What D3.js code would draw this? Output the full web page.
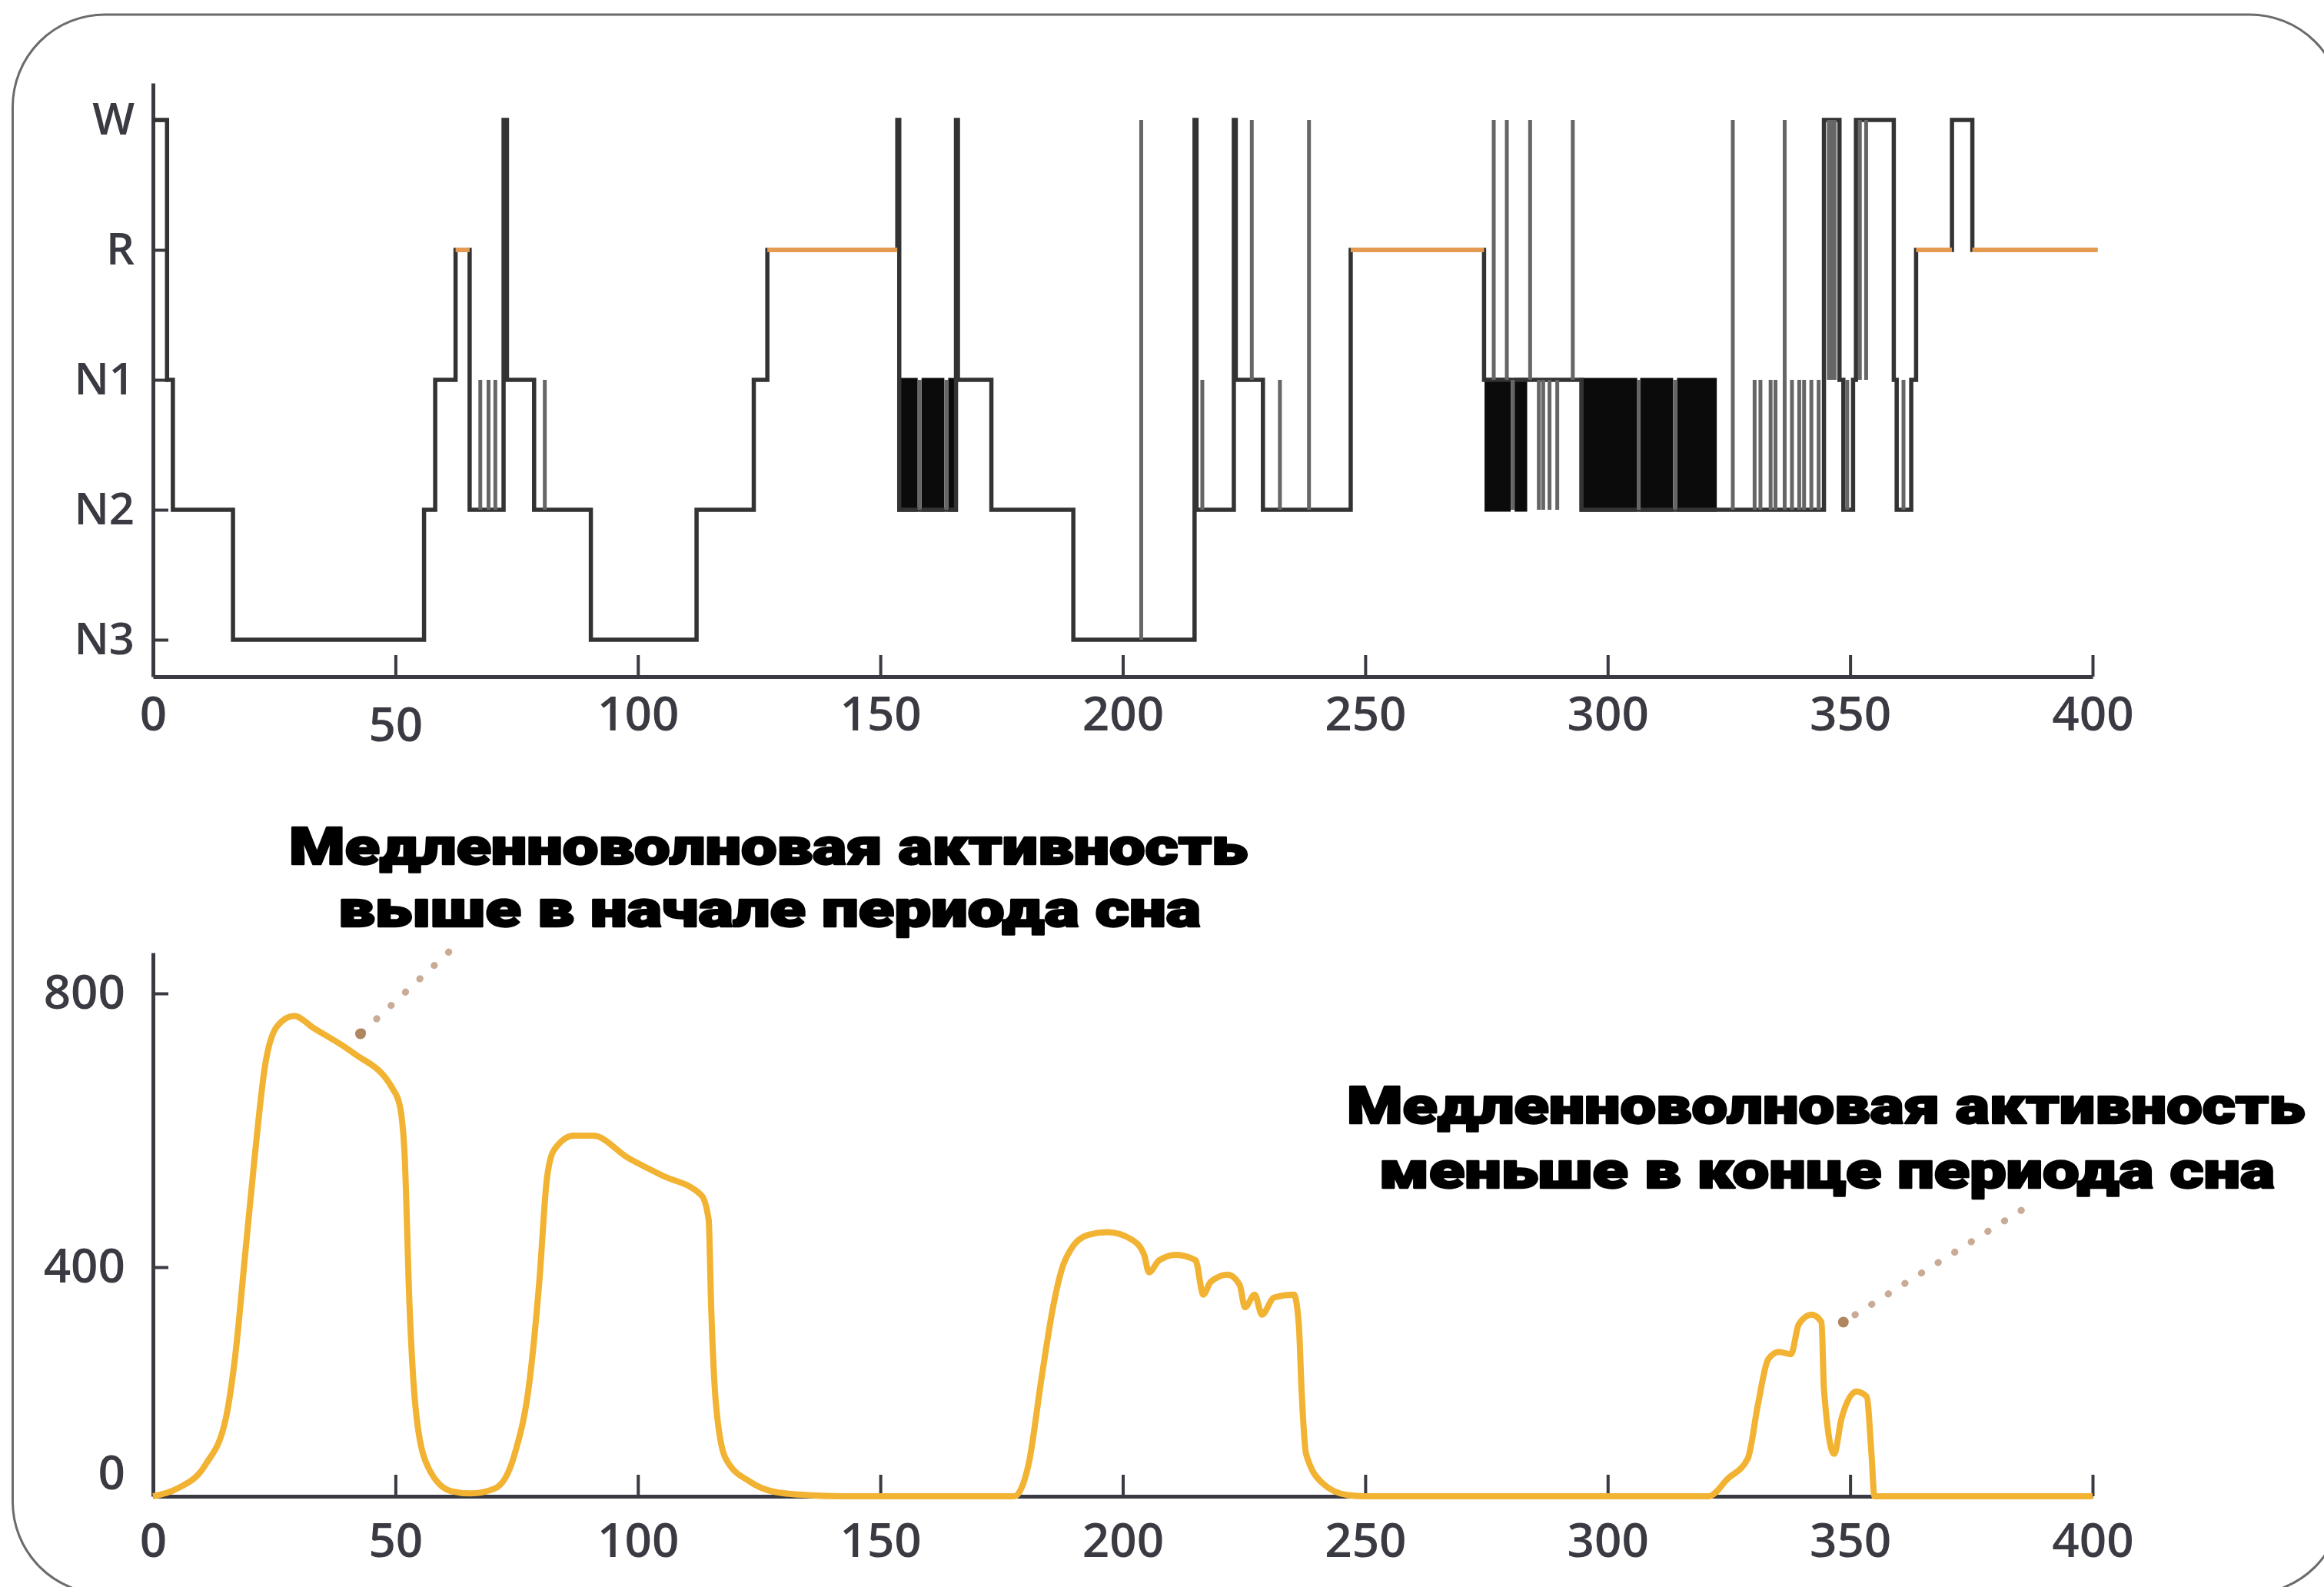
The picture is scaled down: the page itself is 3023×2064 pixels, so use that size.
<!DOCTYPE html>
<html>
<head>
<meta charset="utf-8">
<script src="https://cdn.jsdelivr.net/npm/d3@7"></script>
<style>
html, body { margin: 0; padding: 0; background: #fff; }
svg { display: block; }
</style>
</head>
<body>
<div id="chart"></div>
<script>
// hypnogram stages, bottom to top
var stages = ["N3", "N2", "N1", "R", "W"]

// hypnogram: time of each stage change and the stage entered
var hypTime = [0, 2.9, 4.1, 16.5, 55.9, 58.2, 62.4, 65.3, 72.3, 73.0, 78.6, 90.3, 112.1, 123.9, 126.7,
               153.5, 153.9, 165.6, 166.0, 172.9, 189.8, 214.8, 215.2, 222.9, 223.3, 228.9, 247.0,
               274.5, 294.6, 344.6, 347.8, 348.6, 350.6, 351.2, 359.0, 359.6, 362.6, 363.6, 371.0, 375.2, 401]
var hypStage = ["W", "N1", "N2", "N3", "N2", "N1", "R", "N2", "W", "N1", "N2", "N3", "N2", "N1", "R",
                "W", "N2", "W", "N1", "N2", "N3", "W", "N2", "W", "N1", "N2", "R",
                "N1", "N2", "W", "N1", "N2", "N1", "W", "N1", "N2", "N1", "R", "W", "R", "R"]

// brief excursions away from the current stage
var spikeTime = [67.5, 69.2, 70.6, 80.8, 158.1, 163.6, 203.8, 216.4, 226.6, 232.4, 238.4,
                 276.5, 279.2, 280.4, 284.0, 285.8, 286.7, 288.0, 289.6, 292.8, 306.4, 313.9,
                 325.8, 330.3, 331.5, 333.6, 334.6, 336.5, 338.0, 339.5, 340.5, 342.0, 343.5,
                 345.6, 346.2, 346.8, 349.4, 352.0, 353.3, 361.0]
var spikeFrom = ["N2", "N2", "N2", "N2", "N2", "N2", "N3", "N2", "N1", "N2", "N2",
                 "N1", "N1", "N1", "N1", "N1", "N1", "N1", "N1", "N1", "N2", "N2",
                 "N2", "N2", "N2", "N2", "N2", "N2", "N2", "N2", "N2", "N2", "N2",
                 "W", "W", "W", "N2", "W", "W", "N2"]
var spikeTo = ["N1", "N1", "N1", "N1", "N1", "N1", "W", "N1", "W", "N1", "W",
               "W", "W", "N2", "W", "N2", "N2", "N2", "N2", "W", "N1", "N1",
               "W", "N1", "N1", "N1", "N1", "W", "N1", "N1", "N1", "N1", "N1",
               "N1", "N1", "N1", "N1", "N1", "N1", "N1"]

// periods of rapid N1 / N2 switching
var denseStart = [153.9, 158.9, 164.4, 275.0, 281.2, 294.6, 307.1, 314.7]
var denseEnd   = [157.3, 162.8, 165.6, 279.6, 283.0, 305.7, 313.1, 322.1]

// slow-wave activity
var swaTime = [0, 4.9, 10.9, 15.0, 17.0, 19.0, 21.0, 23.1, 25.6, 29.1, 33.2, 41.3, 49.4, 50.9, 51.9,
               52.9, 54.4, 56.9, 61.5, 65.5, 70.6, 74.6, 77.7, 79.7, 81.2, 82.7, 86.8, 90.8, 97.9,
               105.0, 113.1, 114.6, 115.1, 116.1, 118.1, 123.2, 128.0, 135.0, 142.2, 177.6, 180.6,
               183.2, 185.7, 187.7, 189.2, 192.8, 196.8, 201.9, 204.4, 205.4, 207.5, 211.0, 215.0,
               216.6, 218.1, 221.6, 224.1, 225.2, 227.2, 228.7, 231.2, 235.3, 236.3, 236.9, 237.8,
               241.3, 246.4, 250.0, 320.8, 324.8, 328.9, 331.0, 333.1, 335.3, 337.8, 339.4, 342.0,
               344.1, 344.6, 346.7, 348.2, 351.3, 353.4, 354.4, 355.0, 400]
var swaValue = [0, 13, 56, 135, 248, 418, 563, 694, 752, 767, 749, 713, 661, 636, 563,
                334, 135, 48, 9, 5, 14, 74, 204, 378, 527, 571, 592, 592, 560,
                534, 505, 469, 334, 161, 66, 25, 8, 2, 0, 0, 57,
                204, 334, 403, 425, 447, 451, 440, 418, 391, 410, 418, 410,
                352, 374, 387, 369, 330, 352, 317, 347, 352, 300, 180, 74,
                22, 2, 0, 0, 31, 66, 161, 239, 252, 248, 300, 317,
                304, 187, 74, 135, 183, 174, 74, 0, 0]

var xTicks = [0, 50, 100, 150, 200, 250, 300, 350, 400]
var swaTicks = [0, 400, 800]

var note1 = ["Медленноволновая активность", "выше в начале периода сна"]
var note2 = ["Медленноволновая активность", "меньше в конце периода сна"]

var width = 3023, height = 2064
var labelFont = "'Open Sans', 'DejaVu Sans', sans-serif"
var noteFont = "Roboto, 'DejaVu Sans', sans-serif"

var svg = d3.select("#chart")
    .append("svg")
    .attr("width", width)
    .attr("height", height)

// rounded frame
svg.append("rect")
    .attr("x", 16.5)
    .attr("y", 19)
    .attr("width", 3030)
    .attr("height", 2054)
    .attr("rx", 120)
    .attr("fill", "#fff")
    .attr("stroke", "#6b6b6b")
    .attr("stroke-width", 3)

// scales
var x = d3.scaleLinear().domain([0, 400]).range([199, 2722])
var yS = d3.scalePoint().domain(stages).range([880, 108]).padding(0.284)
// the picture's value axis is not evenly spaced, so map it piece by piece
var yV = d3.scaleLinear().domain([0, 400, 800, 860]).range([1946, 1648, 1292, 1239])

function styleAxis(g, size) {
    g.attr("font-size", size)
        .attr("font-family", labelFont)
        .attr("font-weight", 600)
        .attr("color", "#3a3a42")
    g.select(".domain").attr("stroke-width", 5)
    g.selectAll(".tick line").attr("stroke-width", 4)
}

// ---------- top: hypnogram ----------
var hypG = svg.append("g")

hypG.append("g")
    .attr("transform", `translate(0,${880})`)
    .call(d3.axisBottom(x).tickValues(xTicks).tickSizeInner(-28).tickSizeOuter(0).tickPadding(26))
    .call(g => styleAxis(g, 62))
    .call(g => g.selectAll(".tick text").filter(d => d === 50).attr("y", 40))

hypG.append("g")
    .attr("transform", `translate(${x(0)},0)`)
    .call(d3.axisLeft(yS).tickSizeInner(-20).tickSizeOuter(0).tickPadding(24))
    .call(g => styleAxis(g, 58))

var hyp = hypTime.map(function(t, i) { return {t: t, s: hypStage[i]} })

var stepLine = d3.line()
    .x(d => x(d.t))
    .y(d => yS(d.s))
    .curve(d3.curveStepAfter)

// rapid switching blocks
hypG.append("g")
    .selectAll("rect")
    .data(denseStart.map((s, i) => ({a: s, b: denseEnd[i]})))
    .enter().append("rect")
        .attr("x", d => x(d.a))
        .attr("y", yS("N1"))
        .attr("width", d => x(d.b) - x(d.a))
        .attr("height", yS("N2") - yS("N1"))
        .attr("fill", "#0b0b0b")
        .attr("stroke", "#0b0b0b")
        .attr("stroke-width", 5)

hypG.append("path")
    .datum(hyp)
    .attr("d", stepLine)
    .attr("fill", "none")
    .attr("stroke", "#333")
    .attr("stroke-width", 5.5)

// brief excursions
hypG.append("g")
    .selectAll("line")
    .data(spikeTime.map((t, i) => ({t: t, a: spikeFrom[i], b: spikeTo[i]})))
    .enter().append("line")
        .attr("x1", d => x(d.t))
        .attr("x2", d => x(d.t))
        .attr("y1", d => yS(d.a))
        .attr("y2", d => yS(d.b))
        .attr("stroke", "#666")
        .attr("stroke-width", 5)

// REM periods in orange
var remRuns = hyp.slice(0, -1)
    .map((d, i) => ({a: d.t, b: hyp[i + 1].t, s: d.s}))
    .filter(d => d.s === "R")

hypG.append("g")
    .selectAll("line")
    .data(remRuns)
    .enter().append("line")
        .attr("x1", d => x(d.a))
        .attr("x2", d => x(d.b))
        .attr("y1", yS("R"))
        .attr("y2", yS("R"))
        .attr("stroke", "#e59a52")
        .attr("stroke-width", 6)

// ---------- bottom: slow-wave activity ----------
var swaG = svg.append("g")

swaG.append("g")
    .attr("transform", `translate(0,${yV(0)})`)
    .call(d3.axisBottom(x).tickValues(xTicks).tickSizeInner(-28).tickSizeOuter(0).tickPadding(35))
    .call(g => styleAxis(g, 62))

swaG.append("g")
    .attr("transform", `translate(${x(0)},0)`)
    .call(d3.axisLeft(yV).tickValues(swaTicks).tickSizeInner(-20).tickSizeOuter(0).tickPadding(36))
    .call(g => styleAxis(g, 62))
    .call(g => g.selectAll(".tick text").filter(d => d === 0).attr("y", -29))

var swa = swaTime.map(function(t, i) { return {t: t, v: swaValue[i]} })

swaG.append("path")
    .datum(swa)
    .attr("d", d3.line().x(d => x(d.t)).y(d => yV(d.v)).curve(d3.curveMonotoneX))
    .attr("fill", "none")
    .attr("stroke", "#f2b232")
    .attr("stroke-width", 8)
    .attr("stroke-linejoin", "round")

// ---------- notes with dotted arrows ----------
function note(lines, xs, ys, lens) {
    lines.forEach(function(txt, i) {
        svg.append("text")
            .attr("x", xs[i])
            .attr("y", ys[i])
            .attr("textLength", lens[i])
            .attr("lengthAdjust", "spacingAndGlyphs")
            .attr("font-family", noteFont)
            .attr("font-weight", 900)
            .attr("font-size", 66)
            .attr("fill", "#000")
            .attr("stroke", "#000")
            .attr("stroke-width", 2.5)
            .attr("stroke-linejoin", "round")
            .text(txt)
    })
}
note(note1, [376, 440], [1124, 1205], [1247, 1122])
note(note2, [1752, 1794], [1461, 1545], [1246, 1165])

function arrow(t0, v0, t1, v1) {
    svg.append("line")
        .attr("x1", x(t0)).attr("y1", yV(v0))
        .attr("x2", x(t1)).attr("y2", yV(v1))
        .attr("stroke", "#c9ab96")
        .attr("stroke-width", 9)
        .attr("stroke-linecap", "round")
        .attr("stroke-dasharray", "0.5,25")
    svg.append("circle")
        .attr("cx", x(t1)).attr("cy", yV(v1))
        .attr("r", 7)
        .attr("fill", "#b08660")
}
arrow(61, 861, 42.8, 741)
arrow(385.3, 483, 348.6, 304)
</script>
</body>
</html>
